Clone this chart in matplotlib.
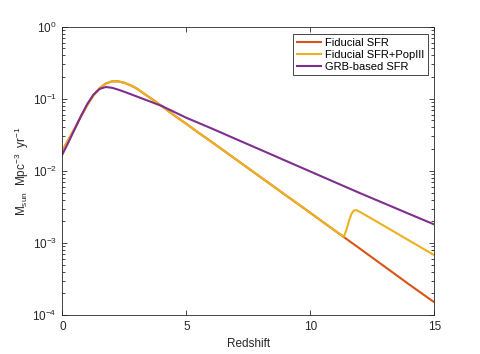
import matplotlib
matplotlib.use("Agg")
import matplotlib.pyplot as plt
import numpy as np

plt.rcParams['font.family'] = ['Liberation Sans', 'DejaVu Sans']
plt.rcParams['mathtext.fontset'] = 'custom'
plt.rcParams['mathtext.rm'] = 'Liberation Sans'
plt.rcParams['mathtext.it'] = 'Liberation Sans'

# values
z_fid = [0, 0.25, 0.5, 0.75, 1.0, 1.25, 1.5, 1.75, 2.0, 2.25, 2.5, 2.75, 3.0, 3.5, 4.0,
         4.5, 5.0, 5.5, 6, 7, 8, 9, 10, 11, 12, 13, 14, 15]
sfr_fid = [0.0192, 0.0272, 0.0389, 0.0569, 0.0813, 0.1109, 0.1396, 0.1622, 0.1738,
           0.1738, 0.1660, 0.1531, 0.1380, 0.1047, 0.0794, 0.0589, 0.0447, 0.0335,
           0.0254, 0.01439, 0.00813, 0.00460, 0.00261, 0.00147, 0.000832, 0.000468,
           0.000263, 0.000150]

z_pop = z_fid[:24] + [11.2, 11.35, 11.45, 11.55, 11.65, 11.75, 11.85, 12, 13, 14, 15]
sfr_pop = sfr_fid[:24] + [0.00132, 0.00122, 0.00151, 0.00200, 0.00251, 0.00281,
                          0.00285, 0.00269, 0.00170, 0.00107, 0.000676]

z_grb = [0, 0.25, 0.5, 0.75, 1.0, 1.25, 1.5, 1.75, 2.0, 2.25, 2.5, 3.0, 3.5, 4.0, 5.0,
         6, 7, 8, 9, 10, 11, 12, 13, 14, 15]
sfr_grb = [0.0169, 0.0251, 0.0380, 0.0575, 0.0841, 0.1135, 0.1365, 0.1452, 0.1416,
           0.1334, 0.1245, 0.1072, 0.0923, 0.0794, 0.0543, 0.0389, 0.0275, 0.0195,
           0.0138, 0.00977, 0.00692, 0.00490, 0.00351, 0.00251, 0.00180]

fig = plt.figure(figsize=(4.8, 3.54), dpi=100)
ax = fig.add_axes([0.13, 0.11, 0.775, 0.815])

ax.plot(z_fid, sfr_fid, color='#D95319', lw=1.5, label='Fiducial SFR')
ax.plot(z_pop, sfr_pop, color='#EDB120', lw=1.5, label='Fiducial SFR+PopIII')
ax.plot(z_grb, sfr_grb, color='#7E2F8E', lw=1.5, label='GRB-based SFR')

ax.set_yscale('log')
ax.set_xlim(0, 15)
ax.set_ylim(1e-4, 1)
ax.set_xticks([0, 5, 10, 15])

ax.tick_params(which='both', direction='in', top=True, right=True,
               colors='#262626', labelsize=8.5, width=0.6)
ax.tick_params(which='major', length=3.5, pad=4)
ax.tick_params(which='minor', length=2)
for s in ax.spines.values():
    s.set_color('#262626')
    s.set_linewidth(0.6)

ax.set_xlabel('Redshift', fontsize=8.5, color='#262626', labelpad=4)
ax.set_ylabel(r'M$_{\mathrm{sun}}$  Mpc$^{-3}$  yr$^{-1}$', fontsize=8.5,
              color='#262626', labelpad=1)

leg = ax.legend(loc='upper right', bbox_to_anchor=(0.982, 0.973), borderaxespad=0,
                fontsize=8, fancybox=False, framealpha=1, edgecolor='#262626',
                handlelength=2.2, borderpad=0.35, labelspacing=0.15, handletextpad=0.3)
leg.get_frame().set_linewidth(0.6)

fig.savefig('out.png', dpi=100)
